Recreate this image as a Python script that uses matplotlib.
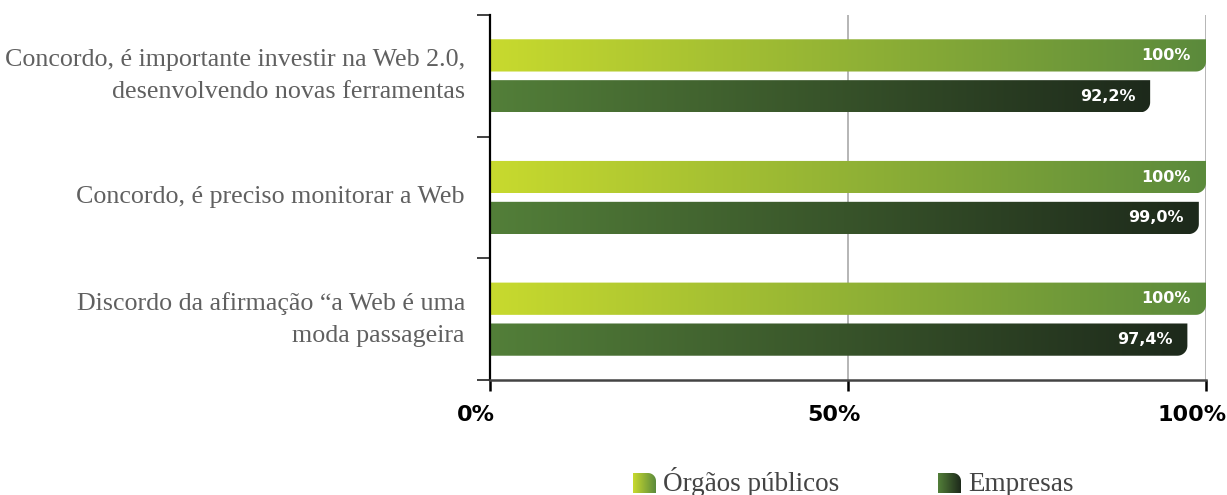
import numpy as np
import matplotlib.pyplot as plt
from matplotlib.path import Path
from matplotlib.patches import PathPatch
from matplotlib.colors import LinearSegmentedColormap
from matplotlib.transforms import ScaledTranslation

categories = [
    "Concordo, é importante investir na Web 2.0,\ndesenvolvendo novas ferramentas",
    "Concordo, é preciso monitorar a Web",
    "Discordo da afirmação “a Web é uma\nmoda passageira",
]
orgaos = [100.0, 100.0, 100.0]
empresas = [92.2, 99.0, 97.4]
series_names = ["Órgãos públicos", "Empresas"]
x_ticks = [0, 50, 100]
x_labels = ["0%", "50%", "100%"]

cmap_org = LinearSegmentedColormap.from_list("org", ["#c8da2e", "#5b8a3c"])
cmap_emp = LinearSegmentedColormap.from_list("emp", ["#537f39", "#1d291b"])

W, H = 1227, 495
fig = plt.figure(figsize=(W / 100, H / 100), dpi=100)
ax = fig.add_axes([490 / W, 1 - 380 / H, 716 / W, 365 / H])
ax.set_xlim(0, 100)
ax.set_ylim(2.5, -0.5)

bar_h = 0.265
offset = 0.168
# corner radius in data units (px / px-per-unit)
rx = 10 / 7.16
ry = 10 / 121.7


def bar_path(x0, x1, ytop, ybot, rx, ry):
    # rectangle with only the lower-right corner rounded (y axis is inverted)
    t = np.linspace(0, np.pi / 2, 12)
    arc_x = x1 - rx + rx * np.cos(t)
    arc_y = ybot - ry + ry * np.sin(t)
    verts = [(x0, ytop), (x1, ytop)] + list(zip(arc_x, arc_y)) + [(x0, ybot), (x0, ytop)]
    codes = [Path.MOVETO] + [Path.LINETO] * (len(verts) - 2) + [Path.CLOSEPOLY]
    return Path(verts, codes)


grad = np.linspace(0, 1, 256).reshape(1, -1)


def gradient_bar(ax, value, yc, cmap):
    ytop, ybot = yc - bar_h / 2, yc + bar_h / 2
    patch = PathPatch(bar_path(0, value, ytop, ybot, rx, ry), facecolor="none",
                      edgecolor="none")
    ax.add_patch(patch)
    im = ax.imshow(grad, cmap=cmap, aspect="auto", extent=(0, value, ybot, ytop),
                   interpolation="bilinear", zorder=2)
    im.set_clip_path(patch)


def fmt(v):
    if v == 100:
        return "100%"
    return f"{v:.1f}".replace(".", ",") + "%"


for i, (vo, ve) in enumerate(zip(orgaos, empresas)):
    gradient_bar(ax, vo, i - offset, cmap_org)
    gradient_bar(ax, ve, i + offset, cmap_emp)
    for v, yc in ((vo, i - offset), (ve, i + offset)):
        ax.annotate(fmt(v), xy=(v, yc), xytext=(-15, 0), textcoords="offset pixels",
                    ha="right", va="center", color="white", fontsize=11.5,
                    fontweight="bold", family="DejaVu Sans", zorder=3)
    ax.annotate(categories[i], xy=(0, i), xytext=(-25, 0), textcoords="offset pixels",
                ha="right", va="center", color="#606060", fontsize=18.7,
                family="Liberation Serif", linespacing=1.6)

# vertical guides
for x in (50, 100):
    ax.axvline(x, color="#b0b0b0", lw=1.3, zorder=1)

ax.spines["top"].set_visible(False)
ax.spines["right"].set_visible(False)
ax.spines["left"].set_color("black")
ax.spines["left"].set_linewidth(1.6)
ax.spines["bottom"].set_color("#444444")
ax.spines["bottom"].set_linewidth(1.8)

ax.set_yticks([-0.5, 0.5, 1.5, 2.5])
ax.set_yticklabels([])
ax.tick_params(axis="y", length=9.4, width=1.3, color="#333333")

ax.set_xticks(x_ticks)
ax.set_xticklabels(x_labels, fontsize=16, fontweight="bold", family="DejaVu Sans")
ax.tick_params(axis="x", length=8, width=1.8, color="black", pad=10)
shift = ScaledTranslation(-14 / 100, 0, fig.dpi_scale_trans)
for lbl in ax.get_xticklabels():
    lbl.set_transform(lbl.get_transform() + shift)

# legend drawn in pixel coordinates
lg = fig.add_axes([0, 0, 1, 1], facecolor="none")
lg.set_xlim(0, W)
lg.set_ylim(H, 0)
lg.axis("off")


def legend_icon(x0, cmap):
    x1, ytop, ybot = x0 + 23, 473, 493
    r = 8
    t = np.linspace(np.pi / 2, 0, 12)
    arc_x = x1 - r + r * np.cos(t)
    arc_y = ytop + r - r * np.sin(t)
    verts = [(x0, ybot), (x0, ytop)] + list(zip(arc_x, arc_y)) + [(x1, ybot), (x0, ybot)]
    codes = [Path.MOVETO] + [Path.LINETO] * (len(verts) - 2) + [Path.CLOSEPOLY]
    patch = PathPatch(Path(verts, codes), facecolor="none", edgecolor="none")
    lg.add_patch(patch)
    im = lg.imshow(grad, cmap=cmap, aspect="auto", extent=(x0, x1, ybot, ytop),
                   interpolation="bilinear")
    im.set_clip_path(patch)


for x0, name, cmap in ((633, series_names[0], cmap_org), (938, series_names[1], cmap_emp)):
    legend_icon(x0, cmap)
    lg.text(x0 + 30, 491, name, ha="left", va="baseline", fontsize=19.5,
            family="Liberation Serif", color="#444444")

fig.savefig("out.png", dpi=100)
